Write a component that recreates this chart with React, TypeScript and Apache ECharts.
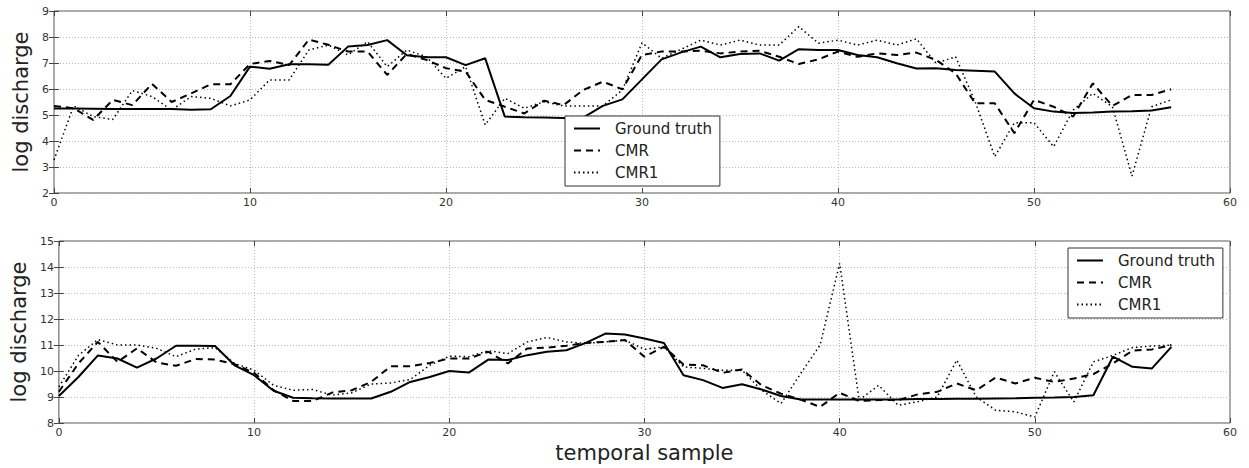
import React, { useEffect, useRef } from "react";
import * as echarts from "echarts";

const seriesNames = ["Ground truth", "CMR", "CMR1"];

const topGroundTruth = [5.25, 5.25, 5.24, 5.23, 5.23, 5.23, 5.23, 5.2, 5.22, 5.73, 6.86, 6.78, 6.95, 6.95, 6.93, 7.63, 7.69, 7.88, 7.3, 7.22, 7.22, 6.92, 7.18, 4.94, 4.91, 4.9, 4.88, 4.9, 5.35, 5.6, 6.37, 7.14, 7.41, 7.63, 7.22, 7.35, 7.37, 7.09, 7.53, 7.5, 7.5, 7.31, 7.22, 6.99, 6.79, 6.8, 6.73, 6.7, 6.67, 5.83, 5.26, 5.13, 5.08, 5.1, 5.13, 5.14, 5.17, 5.3];
const topCMR = [5.35, 5.26, 4.81, 5.58, 5.38, 6.2, 5.5, 5.83, 6.18, 6.18, 6.96, 7.08, 6.92, 7.9, 7.7, 7.44, 7.44, 6.54, 7.35, 7.12, 6.8, 6.67, 5.58, 5.32, 5.06, 5.55, 5.38, 5.96, 6.28, 5.99, 7.31, 7.44, 7.44, 7.47, 7.37, 7.44, 7.47, 7.24, 6.96, 7.14, 7.44, 7.24, 7.37, 7.31, 7.4, 7.12, 6.6, 5.45, 5.45, 4.3, 5.58, 5.32, 4.94, 6.22, 5.35, 5.77, 5.77, 5.99];
const topCMR1 = [3.27, 5.35, 4.94, 4.83, 5.94, 5.71, 5.19, 5.71, 5.64, 5.35, 5.58, 6.35, 6.35, 7.5, 7.69, 7.31, 7.82, 6.86, 7.5, 7.24, 6.41, 6.86, 4.62, 5.64, 5.26, 5.51, 5.35, 5.35, 5.35, 5.96, 7.78, 7.18, 7.53, 7.88, 7.69, 7.88, 7.69, 7.69, 8.4, 7.76, 7.88, 7.69, 7.88, 7.69, 7.93, 6.99, 7.24, 5.5, 3.4, 4.7, 4.7, 3.78, 5.19, 5.83, 5.32, 2.65, 5.32, 5.58];

const bottomGroundTruth = [9.04, 9.77, 10.6, 10.48, 10.13, 10.48, 10.97, 10.97, 10.96, 10.22, 9.84, 9.24, 8.97, 8.95, 8.94, 8.94, 8.94, 9.2, 9.58, 9.77, 10.0, 9.94, 10.44, 10.42, 10.61, 10.74, 10.8, 11.08, 11.44, 11.4, 11.25, 11.08, 9.84, 9.65, 9.35, 9.49, 9.29, 9.04, 8.9, 8.9, 8.9, 8.9, 8.9, 8.9, 8.92, 8.92, 8.93, 8.93, 8.94, 8.95, 8.97, 8.98, 9.0, 9.07, 10.55, 10.16, 10.1, 10.93];
const bottomCMR = [9.2, 10.29, 11.12, 10.35, 10.87, 10.33, 10.2, 10.46, 10.44, 10.26, 9.93, 9.26, 8.85, 8.85, 9.17, 9.26, 9.58, 10.18, 10.18, 10.31, 10.48, 10.48, 10.74, 10.29, 10.87, 10.9, 10.97, 11.08, 11.12, 11.19, 10.55, 10.93, 10.25, 10.22, 9.93, 10.06, 9.45, 9.13, 8.9, 8.62, 9.16, 8.85, 8.88, 8.88, 9.1, 9.2, 9.52, 9.26, 9.75, 9.52, 9.74, 9.58, 9.71, 9.88, 10.29, 10.78, 10.83, 11.0];
const bottomCMR1 = [9.39, 10.6, 11.21, 11.0, 11.0, 10.87, 10.55, 10.84, 10.9, 10.29, 10.03, 9.45, 9.26, 9.29, 9.07, 9.16, 9.5, 9.54, 9.67, 10.22, 10.57, 10.55, 10.78, 10.67, 11.12, 11.29, 11.12, 11.06, 11.12, 11.19, 10.83, 10.93, 10.16, 10.1, 10.03, 10.03, 9.26, 8.75, 9.9, 11.0, 14.14, 8.88, 9.45, 8.68, 8.82, 9.0, 10.42, 9.0, 8.49, 8.43, 8.23, 9.97, 8.81, 10.35, 10.6, 10.9, 10.96, 11.0];

const xLabel = "temporal sample";
const yLabel = "log discharge";

const FONT = "DejaVu Sans";
const toPairs = (arr: number[]) => arr.map((v, i) => [i, v]);

export default function App() {
  const ref = useRef<HTMLDivElement>(null);
  useEffect(() => {
    if (!ref.current) return;
    const chart = echarts.init(ref.current, null, { renderer: "svg" });

    const gridLine = { show: true, lineStyle: { color: "#b8b8b8", type: [1, 2], width: 1 } };
    const mainX = (gridIndex: number, withName: boolean) => ({
      type: "value",
      gridIndex,
      min: 0,
      max: 60,
      interval: 10,
      position: "bottom",
      axisLine: { show: false },
      axisTick: { show: true, inside: true, length: 5, lineStyle: { color: "#444" } },
      axisLabel: { color: "#333", fontSize: 11, fontFamily: FONT, margin: 4 },
      splitLine: gridLine,
      name: withName ? xLabel : "",
      nameLocation: "middle",
      nameGap: 19,
      nameTextStyle: { fontSize: 21, fontFamily: FONT, color: "#222", verticalAlign: "top" },
    });
    const topX = (gridIndex: number) => ({
      type: "value",
      gridIndex,
      min: 0,
      max: 60,
      interval: 10,
      position: "top",
      axisLine: { show: false },
      axisTick: { show: true, inside: true, length: 5, lineStyle: { color: "#444" } },
      axisLabel: { show: false },
      splitLine: { show: false },
    });
    const mainY = (gridIndex: number, min: number, max: number) => ({
      type: "value",
      gridIndex,
      min,
      max,
      interval: 1,
      position: "left",
      axisLine: { show: false },
      axisTick: { show: true, inside: true, length: 5, lineStyle: { color: "#444" } },
      axisLabel: { color: "#333", fontSize: 11, fontFamily: FONT, margin: 5 },
      splitLine: gridLine,
      name: yLabel,
      nameLocation: "middle",
      nameGap: 22,
      nameRotate: 90,
      nameTextStyle: { fontSize: 21, fontFamily: FONT, color: "#222" },
    });
    const rightY = (gridIndex: number, min: number, max: number) => ({
      type: "value",
      gridIndex,
      min,
      max,
      interval: 1,
      position: "right",
      axisLine: { show: false },
      axisTick: { show: true, inside: true, length: 5, lineStyle: { color: "#444" } },
      axisLabel: { show: false },
      splitLine: { show: false },
    });

    const styles = [
      { color: "#000", width: 2, type: "solid" },
      { color: "#000", width: 2, type: [7, 5] },
      { color: "#000", width: 1.5, type: [1.5, 3] },
    ];
    const mk = (name: string, data: number[], idx: number, axisIdx: number) => ({
      type: "line",
      name,
      xAxisIndex: axisIdx,
      yAxisIndex: axisIdx,
      data: toPairs(data),
      symbol: "none",
      lineStyle: styles[idx],
      itemStyle: { color: "#000" },
      z: 3 - idx,
    });

    const legendBase = {
      orient: "vertical",
      data: seriesNames,
      backgroundColor: "#fff",
      borderColor: "#333",
      borderWidth: 1,
      borderRadius: 0,
      padding: [5, 8, 6, 8],
      itemGap: 7,
      itemWidth: 26,
      itemHeight: 15,
      selectedMode: false,
      itemStyle: { opacity: 0, borderWidth: 0 },
      textStyle: { fontSize: 15, fontFamily: FONT, color: "#222", padding: [0, 0, 0, 10] },
    };

    chart.setOption({
      animation: false,
      backgroundColor: "#fff",
      grid: [
        { left: 54, top: 11, width: 1176, height: 182, show: true, borderColor: "#555", borderWidth: 1, backgroundColor: "transparent" },
        { left: 55, top: 241, width: 1175, height: 182, show: true, borderColor: "#555", borderWidth: 1, backgroundColor: "transparent" },
      ],
      xAxis: [mainX(0, false), mainX(1, true), topX(0), topX(1)],
      yAxis: [mainY(0, 2, 9), mainY(1, 8, 15), rightY(0, 2, 9), rightY(1, 8, 15)],
      legend: [
        { ...legendBase, left: 565, top: 116 },
        { ...legendBase, left: 1068, top: 248 },
      ],
      series: [
        mk(seriesNames[0], topGroundTruth, 0, 0),
        mk(seriesNames[1], topCMR, 1, 0),
        mk(seriesNames[2], topCMR1, 2, 0),
        mk(seriesNames[0], bottomGroundTruth, 0, 1),
        mk(seriesNames[1], bottomCMR, 1, 1),
        mk(seriesNames[2], bottomCMR1, 2, 1),
      ],
    });
    return () => chart.dispose();
  }, []);
  return (
    <div
      ref={ref}
      style={{ position: "fixed", left: 0, top: 0, width: 1249, height: 468, background: "#fff" }}
    />
  );
}
